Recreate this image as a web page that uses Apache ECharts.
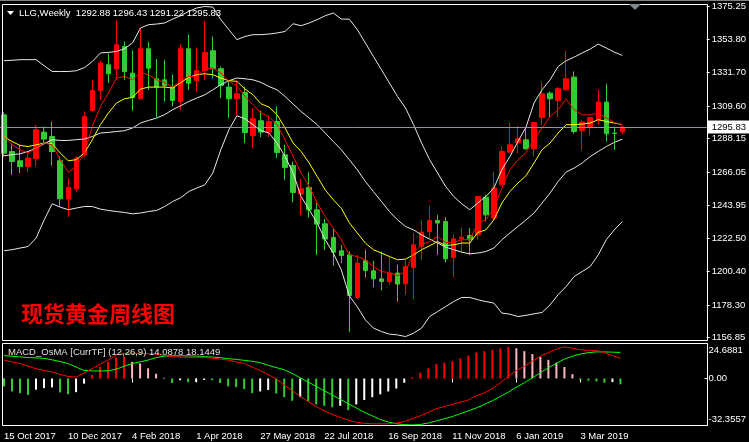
<!DOCTYPE html>
<html><head><meta charset="utf-8">
<script src="https://cdn.jsdelivr.net/npm/echarts@6/dist/echarts.min.js"></script>
<style>html,body{margin:0;padding:0;background:#000;}#c{width:749px;height:442px;}</style>
</head><body><div id="c"></div>
<script>
// ---------- data ----------
const startDate = [2017, 9, 15];      // first weekly bar (15 Oct 2017)
const futureWeeks = 10;               // empty space (chart shift)
const xTickLabels = ['15 Oct 2017','10 Dec 2017','4 Feb 2018','1 Apr 2018','27 May 2018','22 Jul 2018','16 Sep 2018','11 Nov 2018','6 Jan 2019','3 Mar 2019'];
const priceTicks = [1375.25,1353.80,1331.70,1309.60,1288.15,1266.05,1243.95,1222.50,1200.40,1178.30,1156.85];
const macdTicks = [24.6881, 0, -32.3557];
const lastPrice = 1295.83;
const headerText = 'LLG,Weekly  1292.88 1296.43 1291.22 1295.83';
const macdTitle = 'MACD_OsMA [CurrTF] (12,26,9) 14.0878 18.1449';
const chartTitle = '现货黄金周线图';

const opens  = [1303.9,1279.7,1273.6,1269.8,1274.9,1292.5,1289.6,1273.6,1248.3,1255.1,1277.5,1306.8,1320.0,1336.9,1334.3,1349.0,1331.4,1314.5,1347.5,1327.7,1327.0,1322.2,1312.7,1347.5,1326.5,1333.2,1346.2,1334.3,1322.2,1314.5,1318.6,1290.3,1300.0,1292.5,1299.5,1277.5,1270.5,1251.6,1256.0,1241.2,1232.0,1223.0,1214.2,1211.5,1183.4,1207.6,1201.0,1195.7,1193.9,1199.5,1192.4,1203.2,1217.0,1226.9,1234.2,1233.5,1209.8,1222.1,1224.3,1224.7,1249.6,1235.8,1257.7,1279.3,1285.7,1287.4,1281.5,1302.1,1318.2,1313.4,1320.4,1328.8,1293.4,1295.8,1300.6,1312.3,1291.8,1292.88];
const closes = [1278.6,1273.1,1269.8,1275.4,1294.0,1287.9,1279.7,1248.5,1256.0,1275.4,1302.8,1320.0,1338.0,1331.0,1350.1,1332.5,1315.3,1347.5,1334.7,1322.2,1323.1,1313.4,1347.5,1324.8,1333.0,1345.0,1334.3,1323.3,1314.5,1317.8,1292.2,1301.3,1292.5,1299.5,1279.0,1269.2,1252.7,1255.1,1241.2,1231.8,1221.9,1213.3,1211.1,1184.7,1206.1,1201.2,1195.7,1193.9,1199.5,1192.2,1203.8,1218.1,1226.5,1234.2,1232.5,1208.9,1222.1,1223.2,1221.5,1250.0,1237.9,1255.6,1279.7,1284.1,1288.1,1281.5,1298.8,1317.8,1314.5,1321.1,1327.7,1292.9,1299.1,1302.1,1312.3,1291.4,1291.6,1295.83];
const highs  = [1305.9,1285.2,1284.1,1279.7,1297.3,1296.2,1299.3,1276.4,1262.2,1276.4,1306.1,1327.0,1339.6,1344.6,1366.1,1352.3,1346.3,1361.1,1351.9,1340.7,1340.2,1330.3,1350.1,1356.7,1348.3,1365.5,1355.6,1335.8,1325.9,1325.9,1322.6,1308.3,1306.6,1303.3,1309.4,1284.1,1273.1,1261.7,1266.1,1246.1,1235.3,1229.2,1218.1,1213.7,1211.5,1214.8,1207.6,1213.7,1211.1,1205.0,1208.3,1225.9,1234.0,1243.9,1237.9,1236.4,1224.7,1229.6,1229.2,1250.7,1251.1,1266.1,1283.0,1298.4,1296.7,1295.5,1298.8,1325.9,1319.3,1322.2,1346.2,1332.5,1300.6,1302.4,1320.4,1324.4,1296.2,1296.43];
const lows   = [1276.2,1264.3,1265.5,1265.9,1269.8,1285.2,1270.5,1243.4,1236.4,1252.7,1276.4,1306.1,1313.8,1324.8,1327.0,1327.0,1306.6,1313.8,1320.4,1302.4,1312.7,1309.4,1307.2,1320.4,1319.3,1327.0,1328.1,1314.9,1301.7,1303.9,1285.2,1282.0,1289.2,1289.2,1275.4,1261.0,1246.1,1237.9,1236.2,1211.5,1214.8,1204.5,1206.1,1160.5,1182.5,1196.6,1190.0,1188.0,1191.8,1180.7,1185.2,1182.5,1208.3,1221.9,1211.5,1206.5,1196.6,1212.7,1211.5,1221.5,1233.5,1234.6,1257.7,1278.7,1278.7,1280.8,1276.4,1297.3,1302.4,1302.1,1319.9,1291.4,1280.4,1290.3,1297.3,1286.3,1280.8,1291.22];

const bbUpper = [1339.6,1339.9,1340.3,1340.3,1340.3,1336.3,1332.5,1332.5,1332.5,1333.0,1335.0,1339.1,1344.7,1345.1,1345.7,1347.5,1351.3,1361.2,1363.4,1363.8,1364.5,1367.1,1369.3,1372.1,1374.4,1375.4,1375.0,1366.7,1360.1,1353.5,1355.6,1356.8,1356.8,1357.2,1357.9,1358.9,1364.0,1362.7,1364.5,1366.7,1369.3,1371.1,1367.1,1367.0,1360.1,1351.3,1342.4,1333.7,1324.9,1316.0,1308.4,1297.4,1285.3,1274.3,1265.5,1256.6,1250.0,1245.2,1241.3,1245.7,1250.0,1255.6,1267.7,1276.4,1286.3,1295.7,1311.7,1320.4,1327.0,1335.8,1339.6,1342.0,1344.7,1347.3,1350.6,1348.0,1345.3,1343.1];
const bbMid   = [1276.9,1277.6,1278.2,1279.7,1282.0,1284.8,1287.5,1287.0,1287.0,1287.5,1287.9,1289.6,1291.9,1292.3,1292.9,1293.4,1295.2,1298.5,1300.2,1301.8,1304.0,1307.3,1309.9,1312.7,1315.0,1317.1,1320.4,1323.8,1326.4,1328.2,1327.7,1327.0,1325.3,1322.6,1320.4,1316.0,1311.0,1306.1,1301.8,1297.4,1291.9,1286.3,1280.9,1274.3,1267.6,1259.9,1253.3,1246.7,1240.1,1234.6,1230.2,1228.0,1224.7,1221.9,1219.3,1216.6,1214.9,1213.3,1212.2,1212.7,1213.7,1216.0,1221.5,1225.9,1230.2,1234.6,1239.1,1245.7,1252.3,1259.9,1266.1,1268.8,1272.1,1276.4,1279.7,1283.0,1285.7,1287.9];
const bbLower = [1214.2,1214.9,1216.0,1217.0,1222.6,1234.6,1245.2,1243.0,1241.3,1242.4,1243.4,1243.4,1241.7,1240.8,1240.1,1239.5,1238.6,1239.1,1240.1,1240.8,1243.4,1246.7,1249.2,1253.3,1255.6,1257.7,1265.5,1280.9,1294.0,1303.3,1301.3,1297.4,1293.4,1291.9,1285.3,1276.4,1265.5,1250.0,1241.3,1232.5,1221.5,1212.7,1201.6,1184.5,1177.2,1168.6,1163.2,1160.9,1159.2,1158.7,1157.6,1159.8,1163.2,1170.8,1174.1,1177.4,1180.7,1183.4,1183.4,1181.9,1180.7,1179.7,1173.1,1172.4,1170.8,1171.6,1172.6,1173.5,1178.5,1185.2,1190.6,1197.2,1200.5,1203.8,1211.5,1221.5,1228.0,1233.5];
const maYellow = [1289.6,1286.3,1283.7,1283.0,1284.1,1285.3,1284.8,1278.7,1273.6,1274.3,1278.7,1287.5,1297.4,1305.1,1311.7,1314.5,1315.4,1320.9,1322.2,1322.2,1322.2,1321.6,1325.1,1328.6,1330.4,1331.0,1330.4,1328.2,1326.4,1326.0,1320.9,1317.2,1311.2,1309.0,1304.0,1295.2,1285.3,1279.7,1272.1,1263.2,1254.4,1247.9,1242.3,1232.7,1225.9,1219.3,1214.9,1212.7,1210.4,1208.3,1208.7,1211.5,1214.9,1217.5,1220.3,1217.7,1218.1,1219.3,1219.3,1226.3,1228.0,1234.6,1245.7,1253.3,1258.9,1263.7,1272.1,1280.9,1285.3,1291.9,1297.4,1297.4,1297.8,1298.5,1300.7,1299.5,1298.5,1297.4];
const maRed = [1289.6,1284.2,1280.9,1278.7,1282.0,1285.3,1284.2,1274.3,1266.1,1269.8,1278.7,1296.3,1309.4,1318.3,1328.2,1329.2,1327.1,1331.9,1330.4,1327.1,1325.3,1322.2,1326.4,1329.2,1329.2,1334.1,1334.8,1331.5,1326.0,1323.1,1316.0,1310.6,1305.1,1302.8,1297.4,1287.5,1276.4,1265.5,1256.6,1245.7,1236.8,1229.2,1221.5,1211.5,1210.4,1208.2,1203.8,1200.5,1199.8,1197.7,1200.5,1212.7,1218.2,1220.3,1223.6,1219.7,1219.7,1221.5,1221.5,1232.5,1234.6,1242.4,1255.6,1267.7,1274.3,1278.9,1287.5,1295.2,1302.8,1307.2,1314.3,1307.2,1303.9,1303.9,1305.1,1301.8,1298.9,1297.4];

const osma = [-5.5,-9.0,-10.2,-11.4,-7.8,-6.7,-6.2,-9.7,-10.9,-9.5,-3.6,2.4,8.3,11.6,14.7,15.4,11.6,10.5,7.1,3.3,0.5,-3.1,-1.2,-2.6,-2.3,-1.0,-1.2,-3.1,-5.5,-6.0,-7.4,-10.2,-9.0,-8.0,-10.5,-13.0,-15.5,-13.0,-16.0,-18.0,-19.0,-20.0,-19.0,-22.0,-18.0,-15.0,-13.0,-11.0,-9.0,-7.0,-3.0,1.0,4.0,7.0,10.0,11.0,12.0,14.0,16.0,18.0,19.0,20.0,21.0,22.0,21.0,19.0,17.0,15.0,13.0,11.0,8.0,3.0,-1.0,-1.5,-2.0,-3.0,-2.5,-4.06];
const macdMain = [12.8,11.6,10.4,8.6,6.8,5.6,4.5,2.9,1.4,0.9,3.8,6.8,9.9,12.8,16.3,17.5,17.5,17.5,17.2,16.8,16.0,15.2,14.9,14.7,14.7,14.7,14.2,13.5,12.8,11.6,10.4,8.0,5.6,2.7,-0.3,-4.5,-8.6,-12.5,-16,-19.5,-22.5,-25,-27,-29,-30.5,-31.2,-31.5,-31.6,-31.5,-31,-30,-28,-26,-23.5,-21,-19.5,-18,-16.5,-15,-12,-10,-7,-3,1.5,5.5,8.5,12,15.5,18,20.5,22,21,20,19.5,19.5,18,16,14.0878];
const macdSignal = [15.9,15.5,15.0,14.6,14.3,14.0,13.0,11.8,10.4,8.0,5.6,5.3,5.2,5.3,6.5,8.5,10.4,11.6,12.8,14.5,15.5,15.8,15.8,15.7,15.6,15.2,14.9,14.5,13.8,13.3,12.6,12.0,11.0,9.2,7.6,6.1,3.5,0.5,-2.5,-5.5,-8.5,-11.5,-14.5,-17.5,-20.5,-23.5,-26,-28.5,-30.3,-31.5,-32.1,-32.3557,-32,-31,-29.5,-28,-26.5,-24.5,-22.5,-20.5,-18,-15.5,-12.5,-9.5,-6,-3,0.5,4,7.5,10.5,13.5,15.5,17,18,18.5,18.5,18.3,18.1449];

// ---------- build ----------
const MON = ['Jan','Feb','Mar','Apr','May','Jun','Jul','Aug','Sep','Oct','Nov','Dec'];
const cats = [];
const t0 = Date.UTC(startDate[0], startDate[1], startDate[2]);
for (let i = 0; i < opens.length + futureWeeks; i++) {
  const d = new Date(t0 + i * 7 * 864e5);
  cats.push(d.getUTCDate() + ' ' + MON[d.getUTCMonth()] + ' ' + d.getUTCFullYear());
}
const FONT = 'Liberation Sans';
const FS = 9.5;
const showTick = (i, v) => xTickLabels.indexOf(v) >= 0;
const lblStyle = { color: '#fff', fontFamily: FONT, fontSize: FS };

const candleData = opens.map((o, i) => [o, closes[i], lows[i], highs[i]]);
const lineS = (data, color) => ({
  type: 'line', xAxisIndex: 0, yAxisIndex: 0, data, symbol: 'none', silent: true,
  lineStyle: { color, width: 1 }, z: 4, animation: false
});

const chart = echarts.init(document.getElementById('c'), null, { renderer: 'canvas' });
chart.setOption({
  backgroundColor: '#000',
  animation: false,
  grid: [
    { left: 0, top: 4, width: 707, height: 337, show: false },
    { left: 0, top: 343, width: 707, height: 82, show: false }
  ],
  xAxis: [
    { type: 'category', gridIndex: 0, data: cats, boundaryGap: true,
      axisLine: { show: false }, axisTick: { show: false }, axisLabel: { show: false }, splitLine: { show: false } },
    { type: 'category', gridIndex: 1, data: cats, boundaryGap: true,
      axisLine: { show: false },
      axisTick: { show: true, alignWithLabel: true, interval: showTick, length: 4, lineStyle: { color: '#fff' } },
      axisLabel: Object.assign({ show: true, interval: showTick, align: 'left', margin: 6 }, lblStyle),
      splitLine: { show: false } }
  ],
  yAxis: [
    { type: 'value', gridIndex: 0, position: 'right', min: 1154.67, max: 1377.03,
      axisLine: { show: false },
      axisTick: { show: true, customValues: priceTicks, length: 3, lineStyle: { color: '#fff' } },
      axisLabel: Object.assign({ show: true, customValues: priceTicks, formatter: v => v.toFixed(2), margin: 5 }, lblStyle),
      splitLine: { show: false } },
    { type: 'value', gridIndex: 1, position: 'right', min: macdTicks[2], max: macdTicks[0],
      axisLine: { show: false },
      axisTick: { show: true, customValues: macdTicks, length: 3, lineStyle: { color: '#fff' } },
      axisLabel: { show: true, customValues: macdTicks, margin: 4,
        formatter: v => v === macdTicks[0] ? '{t|' + v.toFixed(4) + '}' : (v === macdTicks[2] ? '{b|' + v.toFixed(4) + '}' : '{m|0.00}'),
        rich: {
          t: Object.assign({ padding: [14, 0, 0, 0] }, lblStyle),
          b: Object.assign({ padding: [0, 0, 12, 0] }, lblStyle),
          m: Object.assign({}, lblStyle)
        } },
      splitLine: { show: false } }
  ],
  series: [
    { type: 'candlestick', xAxisIndex: 0, yAxisIndex: 0, data: candleData, barWidth: 5, z: 3,
      itemStyle: { color: '#ff0000', color0: '#32cd32', borderColor: '#ff0000', borderColor0: '#32cd32', borderWidth: 1 },
      markLine: { silent: true, symbol: 'none', animation: false,
        data: [{ yAxis: lastPrice }],
        lineStyle: { color: '#8c96a0', type: 'solid', width: 1 },
        label: { show: true, position: 'end', distance: 1, formatter: lastPrice.toFixed(2),
          backgroundColor: '#fff', color: '#000', padding: [2, 4, 1, 4], fontFamily: FONT, fontSize: FS } } },
    lineS(bbUpper, '#e8e8e8'),
    lineS(bbMid, '#e8e8e8'),
    lineS(bbLower, '#e8e8e8'),
    lineS(maYellow, '#ffff00'),
    lineS(maRed, '#ff0000'),
    { type: 'bar', xAxisIndex: 1, yAxisIndex: 1, data: osma, barWidth: 2, silent: true,
      itemStyle: { color: p => {
        const v = p.value, pv = p.dataIndex > 0 ? osma[p.dataIndex - 1] : v + 1;
        if (v >= 0) return v >= pv ? '#ff0000' : '#ffb6c1';
        return v <= pv ? '#32cd32' : '#ffffff';
      } } },
    { type: 'line', xAxisIndex: 1, yAxisIndex: 1, data: macdSignal, symbol: 'none', silent: true,
      lineStyle: { color: '#00ff00', width: 1 }, z: 4 },
    { type: 'line', xAxisIndex: 1, yAxisIndex: 1, data: macdMain, symbol: 'none', silent: true,
      lineStyle: { color: '#ff0000', width: 1 }, z: 5 }
  ],
  graphic: [
    { type: 'rect', z: 100, silent: true, shape: { x: 0, y: 0, width: 749, height: 1 }, style: { fill: '#808080' } },
    { type: 'rect', z: 100, silent: true, shape: { x: 2.5, y: 4.5, width: 705, height: 336 }, style: { fill: 'none', stroke: '#fff', lineWidth: 1 } },
    { type: 'rect', z: 100, silent: true, shape: { x: 2.5, y: 343.5, width: 705, height: 82 }, style: { fill: 'none', stroke: '#fff', lineWidth: 1 } },
    { type: 'polygon', z: 100, silent: true, shape: { points: [[7, 11], [14, 11], [10.5, 15]] }, style: { fill: '#fff' } },
    { type: 'polygon', z: 100, silent: true, shape: { points: [[629, 4], [641, 4], [635, 10]] }, style: { fill: '#7f8790' } },
    { type: 'text', z: 100, silent: true, x: 19, y: 13, style: { text: headerText, fill: '#fff', font: FS + 'px "' + FONT + '"', verticalAlign: 'middle' } },
    { type: 'text', z: 100, silent: true, x: 8, y: 352, style: { text: macdTitle, fill: '#e0e0e0', font: FS + 'px "' + FONT + '"', verticalAlign: 'middle' } },
    { type: 'text', z: 100, silent: true, x: 21, y: 314, style: { text: chartTitle, fill: '#ff0000', font: 'bold 22px "Noto Sans CJK SC"', verticalAlign: 'middle' } }
  ]
});
</script></body></html>
